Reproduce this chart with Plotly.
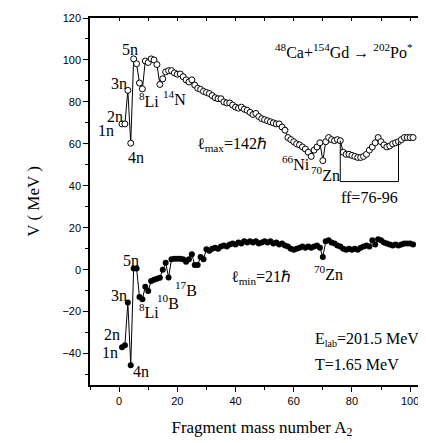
import plotly.graph_objects as go

# ---------------- data ----------------
mass_A = list(range(1, 102))

v_lmax = [69.5, 69.5, 85.5, 60.3, 100.5, 98.2, 89.0, 86.2, 99.5, 98.8,
          100.5, 100.0, 97.8, 88.3, 91.0, 94.3, 94.9, 94.9, 93.8, 93.2,
          93.3, 92.0, 90.5, 89.5, 90.5, 88.0, 86.5, 86.0, 85.0, 84.5,
          84.0, 83.0, 82.0, 81.5, 81.5, 80.0, 79.5, 79.5, 78.5, 77.5,
          77.0, 77.5, 76.5, 76.0, 75.0, 74.0, 74.5, 73.0, 72.0, 71.5,
          71.0, 70.5, 70.0, 69.5, 69.5, 68.0, 66.5, 63.0, 62.0, 61.0,
          60.0, 59.5, 58.5, 57.5, 56.0, 54.0, 57.0, 58.5, 60.5, 52.0,
          61.0, 63.0, 62.0, 61.5, 62.0, 61.5, 56.0, 55.0, 55.0, 54.5,
          54.0, 53.5, 53.5, 54.0, 55.0, 57.0, 58.5, 60.5, 63.0, 61.0,
          59.5, 58.5, 59.0, 60.0, 60.5, 61.0, 62.0, 63.0, 63.0, 63.0,
          63.0]

v_lmin = [-37.0, -36.0, -15.7, -45.6, 0.6, 0.6, -13.0, -14.1, -8.1, -10.2,
          -5.4, -4.8, -4.3, -3.8, 0.0, 3.3, -3.7, 5.0, 5.2, 5.2,
          5.2, 5.0, 3.8, 5.0, 7.3, 2.2, 2.2, 6.0, 5.0, 9.7,
          9.0, 10.0, 10.5, 10.0, 11.0, 11.5, 11.0, 12.0, 12.5, 12.0,
          13.0, 12.5, 13.5, 13.0, 13.5, 13.0, 13.5, 12.5, 13.0, 13.5,
          13.0, 13.5, 12.5, 13.0, 12.0, 12.5, 11.5, 11.0, 10.0, 9.5,
          10.0, 10.5, 11.0, 10.5, 11.0, 10.5, 11.0, 11.5, 10.5, 6.0,
          13.5, 14.0, 13.0, 12.5, 11.5, 11.0, 10.0, 9.5, 10.0, 9.5,
          10.0, 9.5, 10.5, 11.0, 11.5, 11.0, 14.0, 12.0, 14.5, 14.0,
          13.0, 12.5, 12.0, 11.5, 12.0, 11.5, 12.0, 12.5, 12.5, 12.5,
          12.0]

ff_range = [76, 96]
ff_base = 42

x_ticks = [0, 20, 40, 60, 80, 100]
y_ticks = [-40, -20, 0, 20, 40, 60, 80, 100, 120]

# ---------------- figure ----------------
SERIF = "Liberation Serif"
SANS = "Liberation Sans"

fig = go.Figure()

fig.add_trace(go.Scatter(
    x=mass_A, y=v_lmax, mode="lines+markers",
    line=dict(color="black", width=1),
    marker=dict(symbol="circle", size=6, color="white",
                line=dict(color="black", width=1)),
    showlegend=False, hoverinfo="skip"))

fig.add_trace(go.Scatter(
    x=mass_A, y=v_lmin, mode="lines+markers",
    line=dict(color="black", width=1),
    marker=dict(symbol="circle", size=6, color="black",
                line=dict(color="black", width=0)),
    showlegend=False, hoverinfo="skip"))

# bracket for ff region
i0 = mass_A.index(ff_range[0])
i1 = mass_A.index(ff_range[1])
fig.add_trace(go.Scatter(
    x=[ff_range[0], ff_range[0], ff_range[1], ff_range[1]],
    y=[v_lmax[i0], ff_base, ff_base, v_lmax[i1]],
    mode="lines", line=dict(color="black", width=1),
    showlegend=False, hoverinfo="skip"))

# dummy trace for the top mirror axis
fig.add_trace(go.Scatter(x=[None], y=[None], xaxis="x2", showlegend=False,
                         hoverinfo="skip"))

SMALL = "<span style='font-size:10px'>{}</span>"

labels = [
    # (x, y, text, anchor)
    (3.7, 105.0, "5n", "center"),
    (-0.1, 89.0, "3n", "center"),
    (-1.5, 73.2, "2n", "center"),
    (-4.4, 66.3, "1n", "center"),
    (5.9, 53.7, "4n", "center"),
    (10.3, 81.0, "<sup>8</sup>Li", "center"),
    (18.9, 82.0, "<sup>14</sup>N", "center"),
    (38.8, 59.5, "ℓ<sub>max</sub>=142ℏ", "center"),
    (60.7, 51.0, "<sup>66</sup>Ni", "center"),
    (71.0, 45.7, "<sup>70</sup>Zn", "center"),
    (86.2, 34.3, "ff=76-96", "center"),
    (77.3, 104.3, "<sup>48</sup>Ca+<sup>154</sup>Gd → <sup>202</sup>Po<sup>*</sup>", "center"),
    (4.0, 4.4, "5n", "center"),
    (-0.1, -12.5, "3n", "center"),
    (-2.6, -30.8, "2n", "center"),
    (-3.0, -39.6, "1n", "center"),
    (7.5, -48.6, "4n", "center"),
    (10.3, -19.5, "<sup>8</sup>Li", "center"),
    (16.8, -15.2, "<sup>10</sup>B", "center"),
    (23.0, -9.0, "<sup>17</sup>B", "center"),
    (48.6, -3.8, "ℓ<sub>min</sub>=21ℏ", "center"),
    (71.8, -1.4, "<sup>70</sup>Zn", "center"),
    (66.5, -33.3, "E<sub>" + SMALL.format("lab") + "</sub>=201.5 MeV", "left"),
    (66.5, -45.2, "T=1.65 MeV", "left"),
]
for x, y, t, anc in labels:
    fig.add_annotation(x=x, y=y, xref="x", yref="y", text=t, showarrow=False,
                       xanchor=anc, yanchor="middle",
                       font=dict(family=SERIF, size=16, color="black"))

fig.update_layout(
    width=426, height=443,
    margin=dict(l=82, r=0, t=10, b=66),
    paper_bgcolor="white", plot_bgcolor="white",
    xaxis=dict(
        range=[-10, 108.2], showline=True, linecolor="black", linewidth=1.5,
        ticks="outside", ticklen=5, tickwidth=1.2, tickcolor="black",
        tickvals=x_ticks, showgrid=False, zeroline=False,
        minor=dict(dtick=10, tick0=0, ticks="outside", ticklen=3,
                   tickcolor="black", showgrid=False),
        tickfont=dict(family=SANS, size=11, color="black"),
        title=dict(text="Fragment mass number A<sub>2</sub>",
                   font=dict(family=SERIF, size=17, color="black"),
                   standoff=15),
    ),
    xaxis2=dict(
        overlaying="x", side="top", matches="x", range=[-10, 108.2],
        showline=True, linecolor="black", linewidth=1.5,
        ticks="inside", ticklen=3, tickcolor="black", dtick=10, tick0=0,
        showticklabels=False, showgrid=False, zeroline=False,
    ),
    yaxis=dict(
        range=[-55, 120], showline=True, linecolor="black", linewidth=1.5,
        ticks="outside", ticklen=5, tickwidth=1.2, tickcolor="black",
        tickvals=y_ticks, showgrid=False, zeroline=False,
        minor=dict(dtick=10, tick0=0, ticks="outside", ticklen=3,
                   tickcolor="black", showgrid=False),
        tickfont=dict(family=SANS, size=11, color="black"),
        title=dict(text="V ( MeV )",
                   font=dict(family=SERIF, size=17, color="black"),
                   standoff=18),
    ),
)

fig.write_html("out.html")
